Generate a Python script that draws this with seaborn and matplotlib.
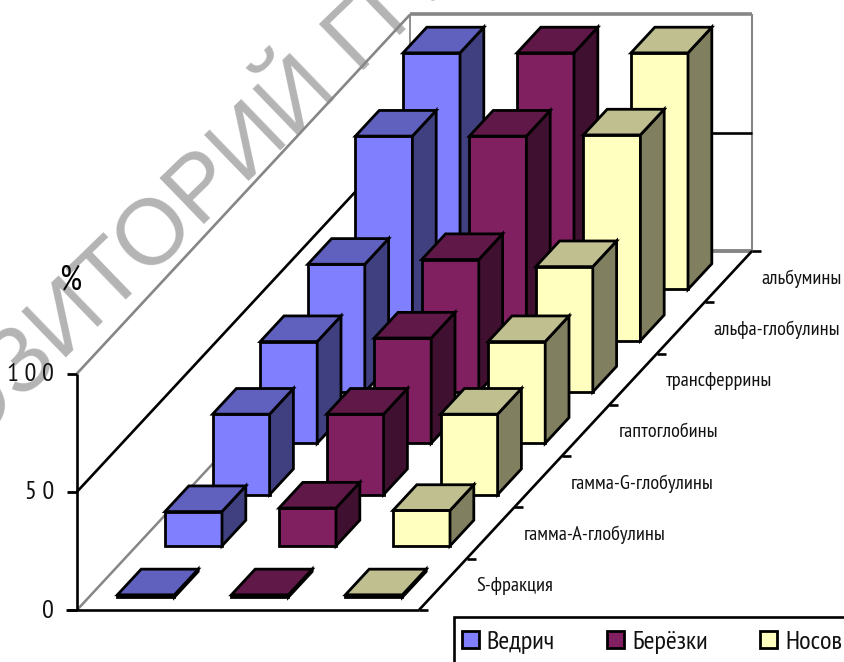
import matplotlib
matplotlib.use("Agg")
import matplotlib.pyplot as plt
from matplotlib.patches import Polygon, Patch, Rectangle
import seaborn as sns

# Serum protein fractions by sampling site, percent
fractions = ["S-фракция", "гамма-А-глобулины", "гамма-G-глобулины", "гаптоглобины",
             "трансферрины", "альфа-глобулины", "альбумины"]
sites = ["Ведрич", "Берёзки", "Носов"]
vedrich = [1, 14.5, 34, 43, 54, 86.5, 100]
beryozki = [1, 16, 34, 44.5, 56, 86.5, 100]
nosov = [1, 15, 34, 43, 53, 87, 100]
series_values = [vedrich, beryozki, nosov]
value_ticks = [0, 50, 100]
value_tick_labels = ["0", "5 0", "1 0 0"]

sns.set_theme(style="white")
plt.rcParams["font.family"] = ["PT Sans Narrow", "Liberation Sans", "DejaVu Sans"]

face_colors = sns.color_palette(["#8080ff", "#802060", "#ffffc0"])


def shade(color, factor):
    return tuple(c * factor for c in color)


# Oblique projection of (series, fraction, percent) on to the canvas
ORIGIN_X, ORIGIN_Y = 77.0, 610.0
SERIES_STEP = 114.0
DEPTH_DX, DEPTH_DY = 47.6, -51.3
VALUE_STEP = -2.365


def project(s, d, v=0.0):
    return (ORIGIN_X + s * SERIES_STEP + d * DEPTH_DX,
            ORIGIN_Y + d * DEPTH_DY + v * VALUE_STEP)


fig = plt.figure(figsize=(8.45, 6.62), dpi=100, facecolor="white")
ax = fig.add_axes([0, 0, 1, 1])
ax.set_xlim(0, 845)
ax.set_ylim(662, 0)
ax.axis("off")

GRAY = "#868686"
BLACK = "#000000"
n_series, n_depth = len(sites), len(fractions)


def line(p, q, color=BLACK, lw=1.5, z=2):
    ax.plot([p[0], q[0]], [p[1], q[1]], color=color, lw=lw, zorder=z,
            solid_capstyle="butt")


ax.text(136, 257, "РЕПОЗИТОРИЙ ГГУ", family="Liberation Sans", fontsize=67,
        color="#b4b4b4", rotation=44, rotation_mode="anchor",
        ha="center", va="center", zorder=1)

# Walls and grid
top = value_ticks[-1]
mid = value_ticks[1]
line(project(0, 0), project(0, n_depth), GRAY, 1.8)
line(project(0, 0, top), project(0, n_depth, top), GRAY, 1.9)
line(project(0, n_depth), project(0, n_depth, top), GRAY, 1.3)
line(project(0, n_depth, top), project(n_series, n_depth, top), GRAY, 2.6)
line(project(n_series, n_depth), project(n_series, n_depth, top), GRAY, 1.5)
line(project(0, n_depth), project(n_series, n_depth), GRAY, 2.8)
line(project(0, 0, mid), project(0, n_depth, mid), BLACK, 1.9)
line(project(0, n_depth, mid), project(n_series, n_depth, mid), BLACK, 1.9)

# Axes and their ticks
x0, y0 = project(0, 0)
line((x0, y0), project(0, 0, top), BLACK, 1.9)
line((x0 - 11, y0), project(n_series, 0), BLACK, 1.9)
line(project(n_series, 0), project(n_series, n_depth), BLACK, 1.9)
for v, lab in zip(value_ticks, value_tick_labels):
    x, y = project(0, 0, v)
    line((x - 10, y), (x, y), BLACK, 2.0)
    ax.text(x - 23, y + 1, lab, ha="right", va="center", fontsize=19, color="#111111")
for d in range(n_depth + 1):
    x, y = project(n_series, d)
    line((x, y), (x + 9, y), BLACK, 1.9)

# Bars, from the back row forward
for d in range(n_depth - 1, -1, -1):
    for s in range(n_series):
        v = series_values[s][d]
        color = face_colors[s]
        s0, s1, d0, d1 = s + 0.25, s + 0.75, d + 0.25, d + 0.75
        faces = [
            ([project(s0, d0), project(s1, d0), project(s1, d0, v), project(s0, d0, v)], 1.0),
            ([project(s1, d0), project(s1, d1), project(s1, d1, v), project(s1, d0, v)], 0.5),
            ([project(s0, d0, v), project(s1, d0, v), project(s1, d1, v), project(s0, d1, v)], 0.75),
        ]
        for pts, factor in faces:
            ax.add_patch(Polygon(pts, closed=True, facecolor=shade(color, factor),
                                 edgecolor=BLACK, lw=2.0, joinstyle="miter",
                                 zorder=3 + (n_depth - d)))

# Fraction labels beside the depth axis
for d, name in enumerate(fractions):
    x, y = project(n_series, d + 0.5)
    ax.text(x + 33, y + 2, name, ha="left", va="center", fontsize=14.6, color="#111111", zorder=20)

ax.text(70, 281, "%", ha="center", va="center", fontsize=25, color=BLACK, zorder=20)

# Legend strip running off the canvas edge
ax.add_patch(Rectangle((454.5, 616.5), 420, 70, facecolor="white", edgecolor=BLACK,
                       lw=1.9, zorder=25))
handles = [Patch(facecolor=c, edgecolor=BLACK, lw=2.0, joinstyle="round") for c in face_colors]
ax.legend(handles, sites, ncol=3, frameon=False, loc="upper left",
          bbox_to_anchor=(462 / 845, 1 - 631 / 662), bbox_transform=fig.transFigure,
          fontsize=19, handlelength=0.63, handleheight=0.6, handletextpad=0.3,
          columnspacing=2.0, borderpad=0, borderaxespad=0,
          labelcolor="#111111").set_zorder(30)

fig.savefig("out.png", dpi=100)
